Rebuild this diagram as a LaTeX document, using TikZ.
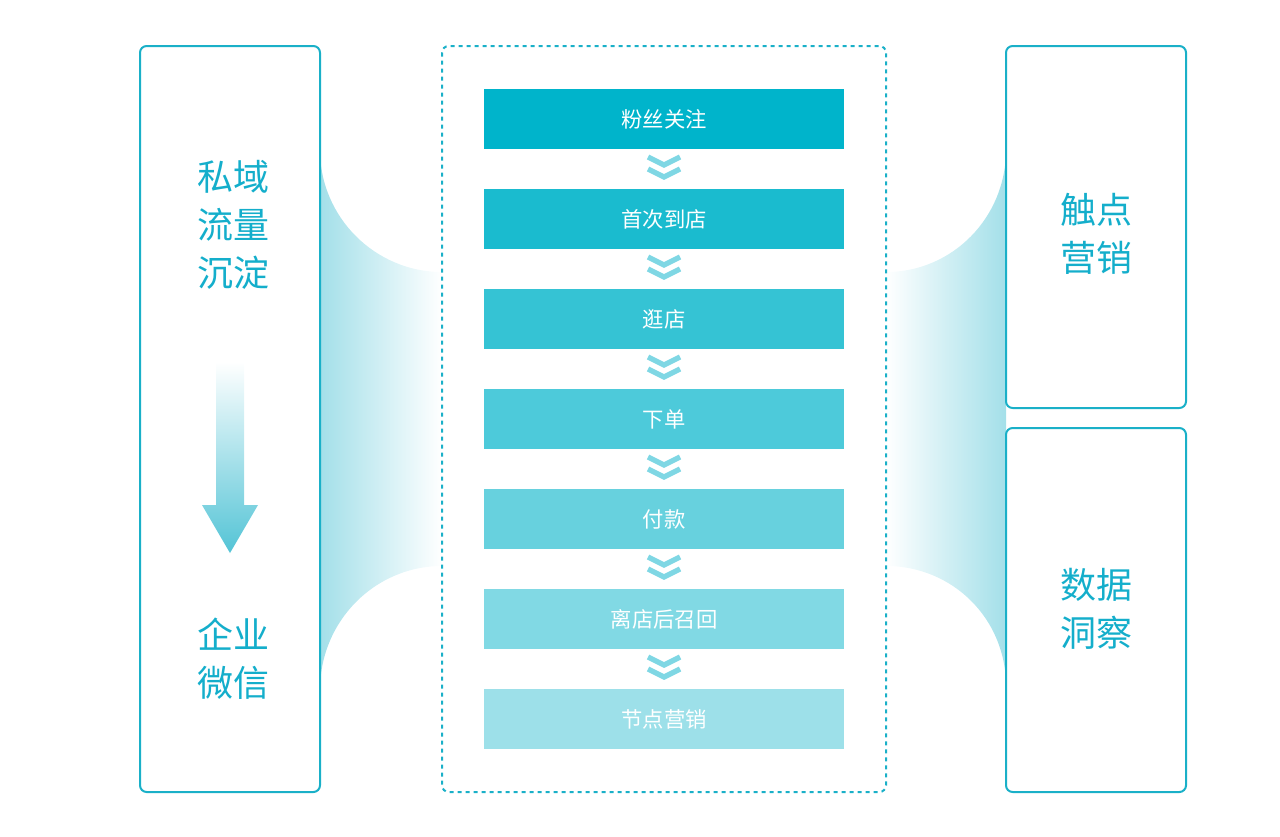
\documentclass[tikz,border=0pt]{standalone}
\usepackage{fontspec}
\setmainfont{Noto Sans CJK SC}
\usetikzlibrary{calc}
\definecolor{rahmen}{HTML}{1AB0C8}
\definecolor{schrift}{HTML}{14AECB}
\definecolor{pfeil}{HTML}{7FD7E4}
\tikzset{
	kasten/.style = {draw = rahmen, line width = 1.5pt, rounded corners = 5pt},
	stufe/.style = {minimum width = 270pt, minimum height = 45pt, inner sep = 0pt, text = white, font = \fontsize{16pt}{18pt}\selectfont},
	titel/.style = {text = schrift, align = center, font = \fontsize{27pt}{36pt}\selectfont}
}

\begin{document}
\begin{tikzpicture}[x = 0.75pt, y = -0.75pt]
	\useasboundingbox (0, 0) rectangle (1280, 836);

	% Verbindungsflaechen
	\shade [left color = rahmen!40, right color = white] (320, 150) .. controls (320, 217) and (375, 272) .. (442, 272) -- (442, 566) .. controls (375, 566) and (320, 621) .. (320, 690) -- cycle;
	\shade [left color = white, right color = rahmen!40] (886, 272) .. controls (953, 272) and (1006, 217) .. (1006, 150) -- (1006, 686) .. controls (1006, 619) and (953, 566) .. (886, 566) -- cycle;

	% Rahmen
	\draw [kasten] (140, 46) rectangle (320, 792);
	\draw [kasten, dashed] (442, 46) rectangle (886, 792);
	\draw [kasten] (1006, 46) rectangle (1186, 408);
	\draw [kasten] (1006, 428) rectangle (1186, 792);

	% Stufen
	\foreach \i/\y/\farbe/\label in {
		1/119/00B4CB/粉丝关注, 2/219/1ABBCF/首次到店, 3/319/35C3D4/逛店, 4/419/4DCADA/下单,
		5/519/67D1DE/付款, 6/619/81D9E4/离店后召回, 7/719/9DE0E9/节点营销
	} {
		\definecolor{stufe\i}{HTML}{\farbe}
		\node [stufe, fill = stufe\i] (s\i) at (664, \y) {\label};
	}
	\foreach \i in {1, ..., 6} {
		\pgfmathtruncatemacro\j{\i+1}
		\coordinate (c\i) at ($(s\i.south)!0.5!(s\j.north)$);
		\draw [pfeil, line width = 4pt] ([shift = {(-16, -12)}]c\i) -- ([shift = {(0, -4)}]c\i) -- ([shift = {(16, -12)}]c\i);
		\draw [pfeil, line width = 4pt] ([shift = {(-16, 0)}]c\i) -- ([shift = {(0, 8)}]c\i) -- ([shift = {(16, 0)}]c\i);
	}

	% Texte
	\node [titel] (links oben) at (233, 225) {私域\\流量\\沉淀};
	\node [titel] (links unten) at (233, 659) {企业\\微信};
	\node [titel] (rechts oben) at (1096, 234) {触点\\营销};
	\node [titel] (rechts unten) at (1096, 609) {数据\\洞察};

	% Pfeil
	\shade [top color = white, bottom color = rahmen!75] (216, 362) -- (244, 362) -- (244, 505) -- (258, 505) -- (230, 553) -- (202, 505) -- (216, 505) -- cycle;
\end{tikzpicture}
\end{document}
